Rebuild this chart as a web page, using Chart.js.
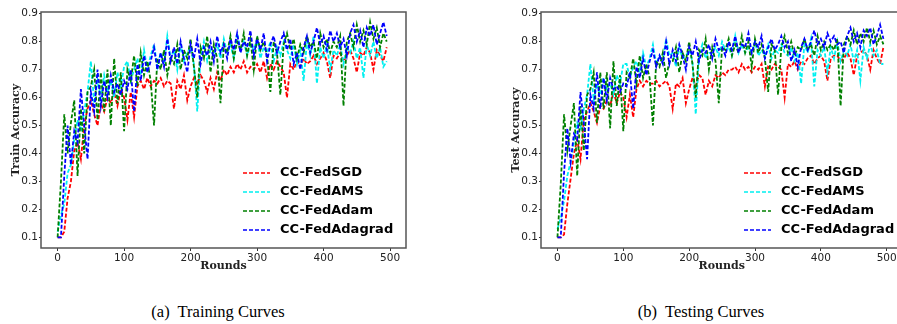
<!DOCTYPE html>
<html>
<head>
<meta charset="utf-8">
<script src="https://cdn.jsdelivr.net/npm/chart.js@4.4.1/dist/chart.umd.min.js"></script>
<style>
  body { margin: 0; width: 897px; height: 324px; overflow: hidden; background: #fff; position: relative; }
  canvas { position: absolute; top: 0; }
  #c1 { left: 0; }
  #c2 { left: 500px; }
  .legend { position: absolute; font: bold 13px "DejaVu Sans", sans-serif; color: #000; }
  .legend div { height: 19px; line-height: 19px; white-space: nowrap; }
  .legend svg { vertical-align: middle; margin-right: 10px; }
  .caption { position: absolute; top: 302px; font: 16.5px "Liberation Serif", "DejaVu Serif", serif; color: #000; transform: translateX(-50%); white-space: nowrap; }
</style>
</head>
<body>
<canvas id="c1" width="420" height="280"></canvas>
<canvas id="c2" width="420" height="280"></canvas>
<div id="leg1" class="legend" style="left:243px; top:162px"></div>
<div id="leg2" class="legend" style="left:744px; top:162px"></div>
<div class="caption" style="left:218px">(a)&nbsp; Training Curves</div>
<div class="caption" style="left:701px">(b)&nbsp; Testing Curves</div>
<script>
const names = ["CC-FedSGD", "CC-FedAMS", "CC-FedAdam", "CC-FedAdagrad"];
const colors = ["#ff0000", "#00f0f0", "#008000", "#0000ff"];
const yTicks = [0.1, 0.2, 0.3, 0.4, 0.5, 0.6, 0.7, 0.8, 0.9];
const xTicks = [0, 100, 200, 300, 400, 500];
// every 5th round
const rounds = Array.from({length: 100}, (_, i) => i * 5);

const trainSGD = [
  0.10,0.10,0.12,0.24,0.30,0.41,0.44,0.38,0.50,0.56,
  0.59,0.54,0.50,0.58,0.55,0.60,0.58,0.62,0.57,0.63,
  0.60,0.52,0.62,0.53,0.64,0.66,0.63,0.67,0.64,0.66,
  0.65,0.67,0.64,0.66,0.65,0.56,0.66,0.63,0.68,0.59,
  0.64,0.67,0.65,0.68,0.66,0.62,0.67,0.63,0.69,0.66,
  0.70,0.68,0.71,0.69,0.72,0.70,0.73,0.69,0.71,0.70,
  0.72,0.69,0.73,0.67,0.72,0.70,0.73,0.71,0.69,0.60,
  0.72,0.70,0.73,0.71,0.74,0.72,0.73,0.75,0.72,0.74,
  0.76,0.73,0.67,0.75,0.74,0.76,0.73,0.75,0.77,0.74,
  0.69,0.76,0.75,0.78,0.76,0.70,0.77,0.75,0.73,0.78
];
const trainAMS = [
  0.12,0.18,0.22,0.33,0.36,0.45,0.52,0.48,0.55,0.62,
  0.73,0.58,0.66,0.60,0.68,0.62,0.66,0.60,0.69,0.64,
  0.71,0.73,0.66,0.70,0.74,0.68,0.77,0.70,0.75,0.79,
  0.71,0.76,0.72,0.82,0.74,0.77,0.70,0.79,0.73,0.76,
  0.78,0.72,0.55,0.74,0.80,0.73,0.77,0.75,0.79,0.74,
  0.81,0.76,0.79,0.74,0.83,0.77,0.80,0.75,0.79,0.77,
  0.81,0.74,0.78,0.76,0.80,0.73,0.78,0.75,0.80,0.77,
  0.74,0.79,0.72,0.77,0.66,0.80,0.75,0.82,0.65,0.78,
  0.74,0.79,0.70,0.77,0.75,0.79,0.72,0.78,0.76,0.80,
  0.74,0.78,0.67,0.79,0.75,0.80,0.74,0.78,0.71,0.73
];
const trainAdam = [
  0.10,0.30,0.54,0.40,0.51,0.59,0.32,0.56,0.40,0.62,
  0.64,0.70,0.52,0.69,0.55,0.70,0.50,0.74,0.58,0.69,
  0.48,0.70,0.66,0.75,0.64,0.76,0.68,0.73,0.66,0.50,
  0.74,0.70,0.77,0.68,0.74,0.72,0.79,0.70,0.77,0.74,
  0.81,0.71,0.60,0.78,0.74,0.82,0.69,0.79,0.74,0.58,
  0.79,0.76,0.82,0.74,0.80,0.77,0.83,0.75,0.81,0.70,
  0.82,0.77,0.80,0.75,0.62,0.80,0.76,0.61,0.79,0.83,
  0.77,0.81,0.74,0.79,0.76,0.82,0.78,0.80,0.74,0.83,
  0.78,0.81,0.76,0.80,0.78,0.82,0.57,0.80,0.83,0.78,
  0.86,0.80,0.84,0.79,0.87,0.81,0.85,0.78,0.83,0.80
];
const trainAdagrad = [
  0.10,0.10,0.32,0.50,0.36,0.48,0.44,0.63,0.50,0.38,
  0.62,0.55,0.70,0.57,0.66,0.60,0.68,0.62,0.65,0.61,
  0.66,0.63,0.70,0.55,0.72,0.66,0.75,0.69,0.73,0.78,
  0.70,0.76,0.71,0.81,0.73,0.78,0.72,0.80,0.74,0.69,
  0.79,0.74,0.81,0.72,0.78,0.75,0.80,0.73,0.82,0.76,
  0.79,0.74,0.81,0.77,0.83,0.76,0.80,0.78,0.84,0.75,
  0.81,0.77,0.83,0.73,0.79,0.82,0.76,0.80,0.83,0.77,
  0.81,0.72,0.76,0.70,0.78,0.82,0.76,0.80,0.85,0.79,
  0.82,0.77,0.84,0.80,0.83,0.78,0.81,0.75,0.83,0.86,
  0.80,0.84,0.78,0.85,0.82,0.86,0.79,0.83,0.87,0.82
];

const testSGD = [
  0.10,0.10,0.11,0.22,0.31,0.40,0.45,0.38,0.52,0.55,
  0.58,0.55,0.51,0.57,0.56,0.59,0.57,0.62,0.58,0.62,
  0.60,0.53,0.61,0.53,0.63,0.66,0.64,0.66,0.65,0.65,
  0.66,0.64,0.65,0.66,0.64,0.56,0.65,0.64,0.67,0.58,
  0.63,0.67,0.64,0.68,0.67,0.61,0.66,0.64,0.68,0.67,
  0.69,0.68,0.70,0.70,0.71,0.69,0.72,0.70,0.71,0.69,
  0.71,0.70,0.72,0.64,0.71,0.70,0.72,0.71,0.70,0.60,
  0.72,0.71,0.73,0.70,0.73,0.72,0.74,0.75,0.72,0.74,
  0.75,0.73,0.66,0.74,0.75,0.75,0.73,0.74,0.76,0.74,
  0.68,0.75,0.76,0.77,0.75,0.70,0.77,0.74,0.72,0.78
];
const testAMS = [
  0.13,0.17,0.23,0.32,0.37,0.44,0.51,0.49,0.56,0.61,
  0.72,0.59,0.65,0.61,0.67,0.63,0.65,0.61,0.68,0.65,
  0.72,0.72,0.67,0.71,0.73,0.69,0.76,0.71,0.74,0.79,
  0.72,0.75,0.73,0.81,0.75,0.76,0.71,0.78,0.74,0.75,
  0.77,0.73,0.54,0.75,0.79,0.74,0.76,0.76,0.78,0.75,
  0.80,0.77,0.78,0.75,0.82,0.76,0.79,0.76,0.78,0.76,
  0.80,0.75,0.77,0.75,0.79,0.74,0.77,0.76,0.79,0.76,
  0.75,0.78,0.73,0.76,0.65,0.79,0.76,0.81,0.64,0.77,
  0.75,0.78,0.69,0.78,0.74,0.80,0.73,0.77,0.75,0.79,
  0.73,0.77,0.66,0.78,0.74,0.79,0.75,0.77,0.72,0.72
];
const testAdam = [
  0.10,0.29,0.54,0.41,0.50,0.58,0.32,0.57,0.41,0.61,
  0.63,0.69,0.51,0.69,0.56,0.69,0.49,0.73,0.57,0.68,
  0.48,0.69,0.67,0.74,0.65,0.75,0.67,0.72,0.67,0.50,
  0.73,0.71,0.76,0.67,0.73,0.73,0.78,0.69,0.76,0.73,
  0.80,0.72,0.60,0.77,0.75,0.81,0.70,0.78,0.73,0.58,
  0.78,0.77,0.81,0.75,0.79,0.76,0.82,0.76,0.80,0.71,
  0.81,0.76,0.79,0.74,0.62,0.79,0.77,0.61,0.78,0.82,
  0.76,0.80,0.75,0.78,0.77,0.81,0.77,0.79,0.75,0.82,
  0.77,0.80,0.77,0.79,0.77,0.81,0.57,0.79,0.82,0.79,
  0.84,0.79,0.83,0.80,0.85,0.80,0.84,0.79,0.82,0.79
];
const testAdagrad = [
  0.10,0.10,0.33,0.49,0.37,0.47,0.45,0.62,0.51,0.38,
  0.61,0.56,0.69,0.56,0.67,0.59,0.67,0.63,0.64,0.62,
  0.65,0.64,0.69,0.56,0.71,0.67,0.74,0.68,0.73,0.77,
  0.71,0.75,0.72,0.80,0.72,0.77,0.73,0.79,0.75,0.70,
  0.78,0.75,0.80,0.73,0.77,0.76,0.79,0.74,0.81,0.77,
  0.78,0.75,0.80,0.77,0.82,0.76,0.79,0.78,0.83,0.76,
  0.80,0.78,0.82,0.74,0.78,0.81,0.77,0.79,0.82,0.78,
  0.80,0.73,0.77,0.71,0.78,0.81,0.77,0.80,0.84,0.79,
  0.81,0.78,0.83,0.80,0.82,0.79,0.80,0.76,0.82,0.85,
  0.80,0.83,0.78,0.84,0.82,0.85,0.79,0.82,0.86,0.81
];

// matplotlib-style box around the plot
const framePlugin = {
  id: 'frame',
  afterDraw(chart) {
    const a = chart.chartArea, ctx = chart.ctx;
    ctx.save();
    ctx.strokeStyle = '#555';
    ctx.lineWidth = 1.5;
    ctx.strokeRect(a.left, a.top, a.right - a.left, a.bottom - a.top);
    ctx.restore();
  }
};

function makeChart(id, series, yTitle, padRight) {
  const datasets = series.map((vals, k) => ({
    label: names[k],
    data: rounds.map((r, i) => ({x: r, y: vals[i]})),
    borderColor: colors[k],
    borderWidth: 1.8,
    borderDash: [4, 2],
    pointRadius: 0,
    fill: false,
    tension: 0,
    order: 4 - k
  }));
  const tickFont = {family: 'DejaVu Sans', size: 10.5, lineHeight: 1};
  const titleFont = {family: 'DejaVu Serif', size: 11, weight: 'bold', lineHeight: 1.2};
  return new Chart(document.getElementById(id), {
    type: 'line',
    data: {datasets: datasets},
    options: {
      responsive: false,
      animation: false,
      devicePixelRatio: 1,
      layout: {padding: {top: 12, right: padRight, left: 0, bottom: 0}},
      plugins: {legend: {display: false}, tooltip: {enabled: false}},
      scales: {
        x: {
          type: 'linear',
          min: -25, max: 524,
          afterBuildTicks: s => { s.ticks = xTicks.map(v => ({value: v})); },
          afterFit: s => { s.height = 32; },
          grid: {drawOnChartArea: false, tickLength: 3, tickColor: '#333'},
          border: {display: false},
          ticks: {color: '#222', font: tickFont, padding: 2, maxRotation: 0},
          title: {display: true, text: 'Rounds', color: '#222', font: titleFont, padding: {top: 0, bottom: 7}}
        },
        y: {
          min: 0.062, max: 0.906,
          afterBuildTicks: s => { s.ticks = yTicks.map(v => ({value: v})); },
          afterFit: s => { s.width = 41; },
          grid: {drawOnChartArea: false, tickLength: 2, tickColor: '#333'},
          border: {display: false},
          ticks: {color: '#222', font: tickFont, padding: 1, callback: v => v.toFixed(1)},
          title: {display: true, text: yTitle, color: '#222', font: titleFont, padding: {top: 9.4, bottom: 0}}
        }
      }
    },
    plugins: [framePlugin]
  });
}

makeChart('c1', [trainSGD, trainAMS, trainAdam, trainAdagrad], 'Train Accuracy', 14);
makeChart('c2', [testSGD, testAMS, testAdam, testAdagrad], 'Test Accuracy', 17.5);

function makeLegend(id) {
  const box = document.getElementById(id);
  names.forEach((n, k) => {
    const row = document.createElement('div');
    row.innerHTML = '<svg width="27" height="4"><line x1="0" y1="2" x2="27" y2="2" stroke="' + colors[k] +
      '" stroke-width="1.5" stroke-dasharray="4 2"/></svg>';
    row.appendChild(document.createTextNode(n));
    box.appendChild(row);
  });
}
makeLegend('leg1');
makeLegend('leg2');
</script>
</body>
</html>
